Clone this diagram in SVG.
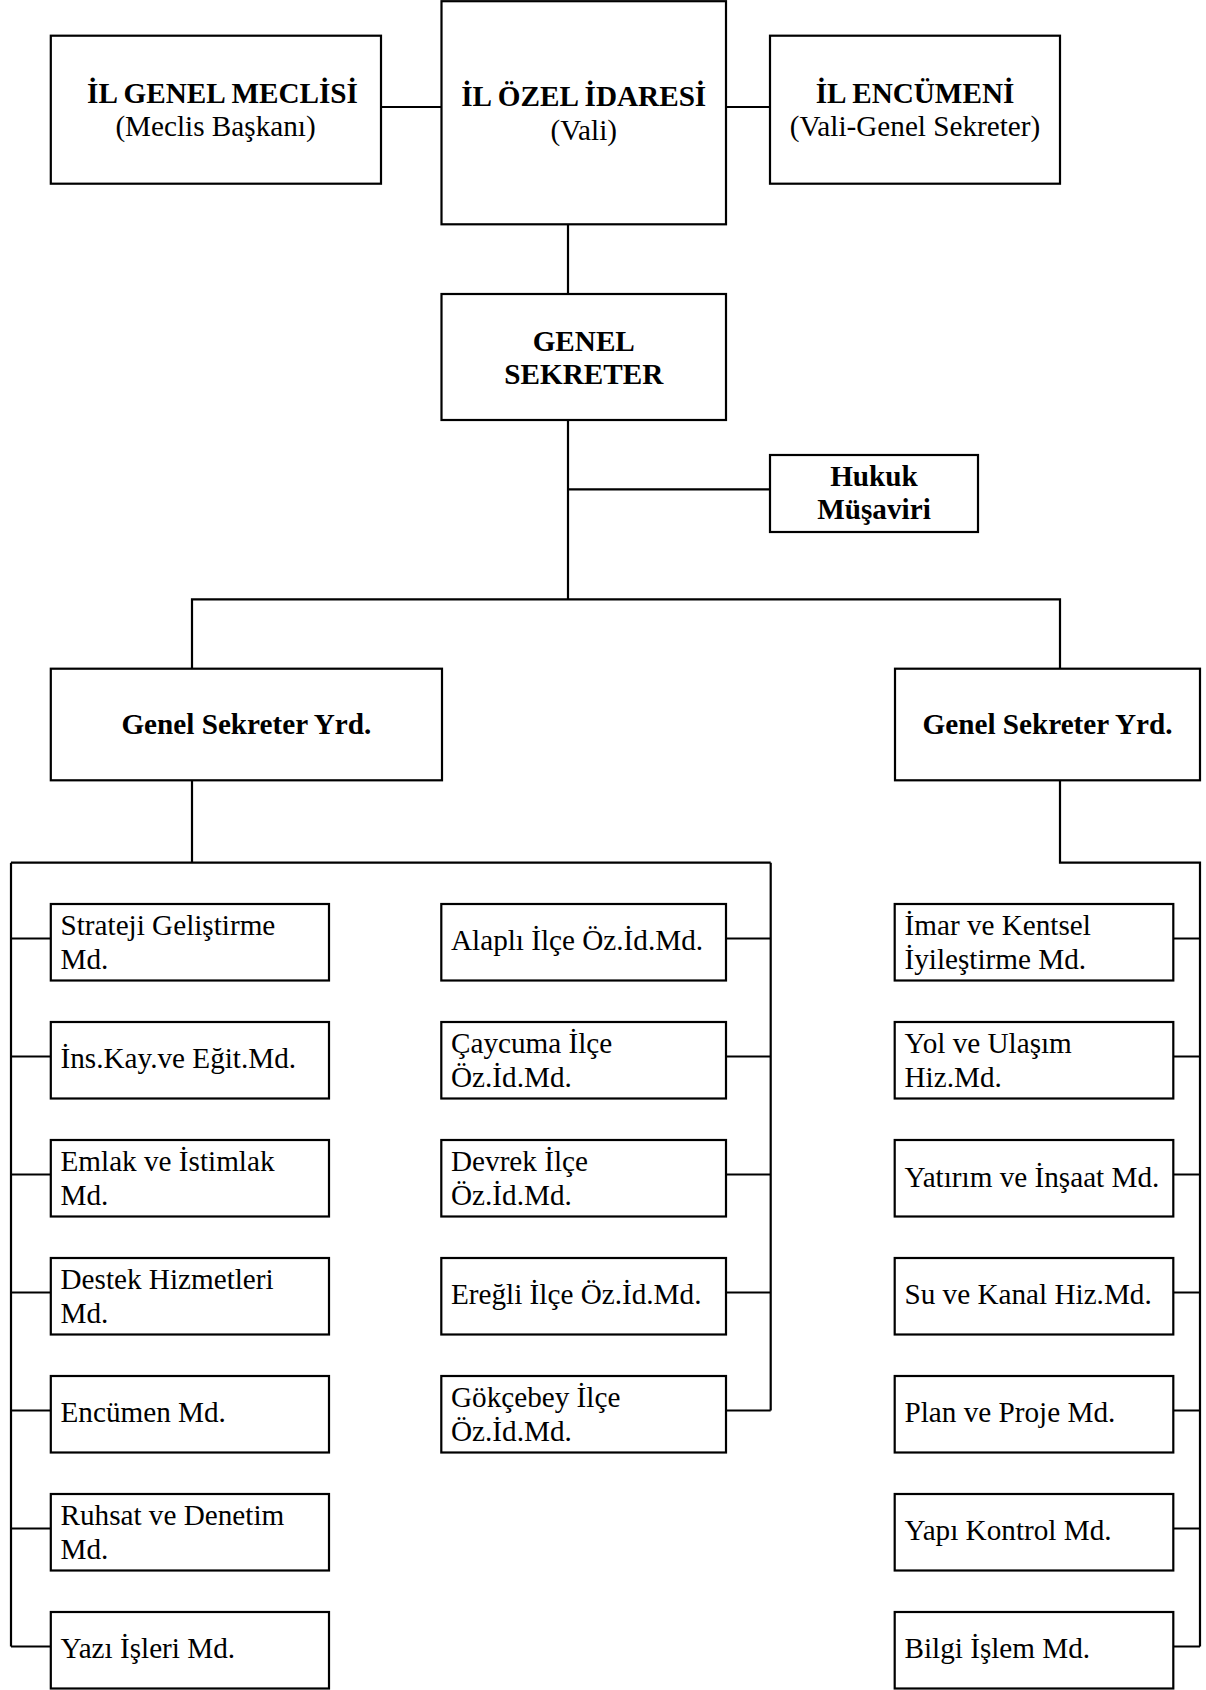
<svg xmlns="http://www.w3.org/2000/svg" width="1206" height="1690" viewBox="0 0 1206 1690">
<style>
.box{fill:#fff;stroke:#000;stroke-width:2.2}
.ln{fill:none;stroke:#000;stroke-width:2.2}
.t{font-family:"Liberation Serif","Times New Roman",serif;font-size:29.2px;fill:#000}
.b{font-weight:bold}
.c{text-anchor:middle}
</style>
<rect width="1206" height="1690" fill="#fff"/>
<g id="connectors" class="ln">
<path d="M381,107H441.5M726,107H770"/>
<path d="M568,224.3V294"/>
<path d="M568,420V599.3M568,489.3H770"/>
<path d="M192,668.7V599.3H1060V668.7"/>
<path d="M192,780.3V862.7"/>
<path d="M11,862.7H770.7M11,862.7V1646.5M770.7,862.7V1410.5"/>
<path d="M11,938.5H50.8M11,1056.5H50.8M11,1174.5H50.8M11,1292.5H50.8M11,1410.5H50.8M11,1528.5H50.8M11,1646.5H50.8"/>
<path d="M726,938.5H770.7M726,1056.5H770.7M726,1174.5H770.7M726,1292.5H770.7M726,1410.5H770.7"/>
<path d="M1060,780.3V862.7H1200V1646.5"/>
<path d="M1173.3,938.5H1200M1173.3,1056.5H1200M1173.3,1174.5H1200M1173.3,1292.5H1200M1173.3,1410.5H1200M1173.3,1528.5H1200M1173.3,1646.5H1200"/>
</g>
<g id="il-genel-meclisi">
<rect class="box" x="50.8" y="35.7" width="330.2" height="148"/>
<text class="t b c" x="222.5" y="102.5">İL GENEL MECLİSİ</text>
<text class="t c" x="215.5" y="136">(Meclis Başkanı)</text>
</g>
<g id="il-ozel-idaresi">
<rect class="box" x="441.5" y="1.2" width="284.5" height="223.1"/>
<text class="t b c" x="583.75" y="106">İL ÖZEL İDARESİ</text>
<text class="t c" x="583.75" y="139.5">(Vali)</text>
</g>
<g id="il-encumeni">
<rect class="box" x="770" y="35.7" width="290" height="148"/>
<text class="t b c" x="915" y="102.5">İL ENCÜMENİ</text>
<text class="t c" x="915" y="136">(Vali-Genel Sekreter)</text>
</g>
<g id="genel-sekreter">
<rect class="box" x="441.5" y="294" width="284.5" height="126"/>
<text class="t b c" x="583.75" y="351">GENEL</text>
<text class="t b c" x="583.75" y="384">SEKRETER</text>
</g>
<g id="hukuk-musaviri">
<rect class="box" x="770" y="455" width="208" height="77"/>
<text class="t b c" x="874" y="485.7">Hukuk</text>
<text class="t b c" x="874" y="519.3">Müşaviri</text>
</g>
<g id="gsy-left">
<rect class="box" x="50.8" y="668.7" width="391.2" height="111.6"/>
<text class="t b c" x="246.4" y="734.3">Genel Sekreter Yrd.</text>
</g>
<g id="gsy-right">
<rect class="box" x="895" y="668.7" width="305" height="111.6"/>
<text class="t b c" x="1047.5" y="734.3">Genel Sekreter Yrd.</text>
</g>
<g id="strateji">
<rect class="box" x="50.8" y="904" width="278.2" height="76.5"/>
<text class="t" x="60.5" y="934.5">Strateji Geliştirme</text>
<text class="t" x="60.5" y="969">Md.</text>
</g>
<g id="ins-kay">
<rect class="box" x="50.8" y="1022" width="278.2" height="76.5"/>
<text class="t" x="60.5" y="1068.3">İns.Kay.ve Eğit.Md.</text>
</g>
<g id="emlak">
<rect class="box" x="50.8" y="1140" width="278.2" height="76.5"/>
<text class="t" x="60.5" y="1170.5">Emlak ve İstimlak</text>
<text class="t" x="60.5" y="1205">Md.</text>
</g>
<g id="destek">
<rect class="box" x="50.8" y="1258" width="278.2" height="76.5"/>
<text class="t" x="60.5" y="1288.5">Destek Hizmetleri</text>
<text class="t" x="60.5" y="1323">Md.</text>
</g>
<g id="encumen">
<rect class="box" x="50.8" y="1376" width="278.2" height="76.5"/>
<text class="t" x="60.5" y="1422.3">Encümen Md.</text>
</g>
<g id="ruhsat">
<rect class="box" x="50.8" y="1494" width="278.2" height="76.5"/>
<text class="t" x="60.5" y="1524.5">Ruhsat ve Denetim</text>
<text class="t" x="60.5" y="1559">Md.</text>
</g>
<g id="yazi">
<rect class="box" x="50.8" y="1612" width="278.2" height="76.5"/>
<text class="t" x="60.5" y="1658.3">Yazı İşleri Md.</text>
</g>
<g id="alapli">
<rect class="box" x="441.3" y="904" width="284.7" height="76.5"/>
<text class="t" x="451" y="950.3">Alaplı İlçe Öz.İd.Md.</text>
</g>
<g id="caycuma">
<rect class="box" x="441.3" y="1022" width="284.7" height="76.5"/>
<text class="t" x="451" y="1052.5">Çaycuma İlçe</text>
<text class="t" x="451" y="1087">Öz.İd.Md.</text>
</g>
<g id="devrek">
<rect class="box" x="441.3" y="1140" width="284.7" height="76.5"/>
<text class="t" x="451" y="1170.5">Devrek İlçe</text>
<text class="t" x="451" y="1205">Öz.İd.Md.</text>
</g>
<g id="eregli">
<rect class="box" x="441.3" y="1258" width="284.7" height="76.5"/>
<text class="t" x="451" y="1304.3">Ereğli İlçe Öz.İd.Md.</text>
</g>
<g id="gokcebey">
<rect class="box" x="441.3" y="1376" width="284.7" height="76.5"/>
<text class="t" x="451" y="1406.5">Gökçebey İlçe</text>
<text class="t" x="451" y="1441">Öz.İd.Md.</text>
</g>
<g id="imar">
<rect class="box" x="894.7" y="904" width="278.6" height="76.5"/>
<text class="t" x="904.5" y="934.5">İmar ve Kentsel</text>
<text class="t" x="904.5" y="969">İyileştirme Md.</text>
</g>
<g id="yol">
<rect class="box" x="894.7" y="1022" width="278.6" height="76.5"/>
<text class="t" x="904.5" y="1052.5">Yol ve Ulaşım</text>
<text class="t" x="904.5" y="1087">Hiz.Md.</text>
</g>
<g id="yatirim">
<rect class="box" x="894.7" y="1140" width="278.6" height="76.5"/>
<text class="t" x="904.5" y="1186.5">Yatırım ve İnşaat Md.</text>
</g>
<g id="su-kanal">
<rect class="box" x="894.7" y="1258" width="278.6" height="76.5"/>
<text class="t" x="904.5" y="1304.3">Su ve Kanal Hiz.Md.</text>
</g>
<g id="plan-proje">
<rect class="box" x="894.7" y="1376" width="278.6" height="76.5"/>
<text class="t" x="904.5" y="1422.3">Plan ve Proje Md.</text>
</g>
<g id="yapi-kontrol">
<rect class="box" x="894.7" y="1494" width="278.6" height="76.5"/>
<text class="t" x="904.5" y="1540.3">Yapı Kontrol Md.</text>
</g>
<g id="bilgi-islem">
<rect class="box" x="894.7" y="1612" width="278.6" height="76.5"/>
<text class="t" x="904.5" y="1658.3">Bilgi İşlem Md.</text>
</g>
</svg>
